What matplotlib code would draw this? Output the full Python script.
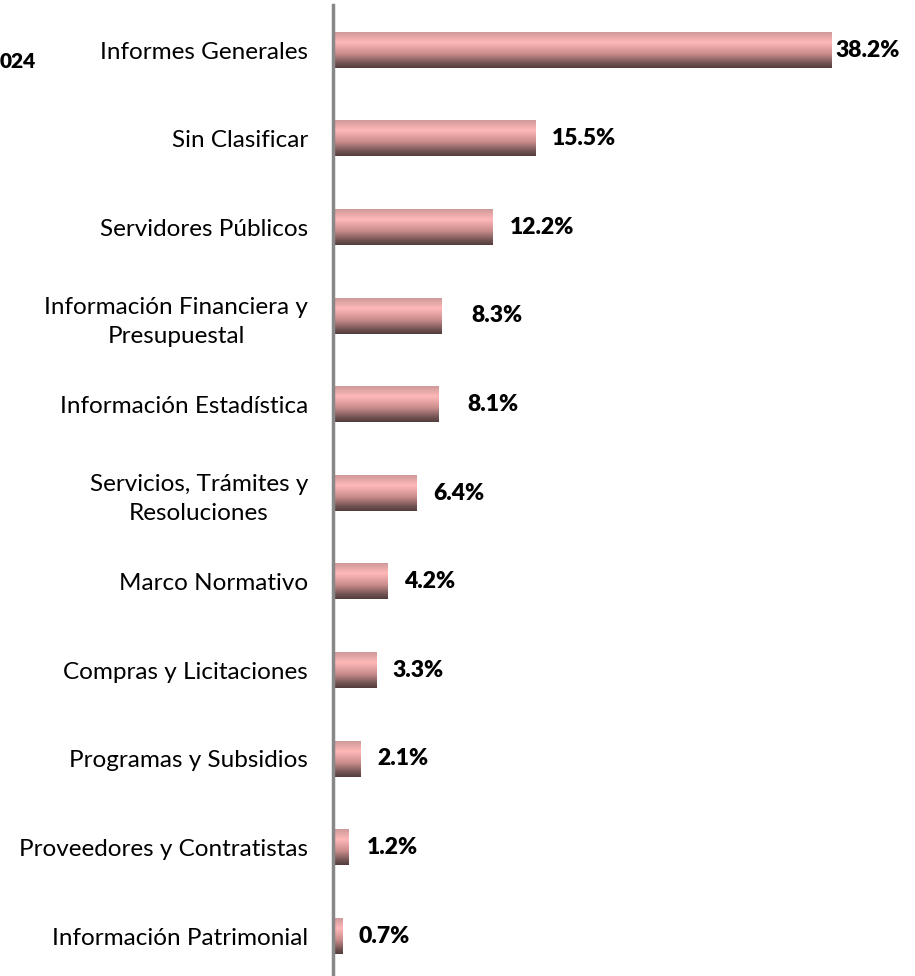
import numpy as np
import matplotlib.pyplot as plt
from matplotlib.colors import LinearSegmentedColormap

categories = [
    "Informes Generales",
    "Sin Clasificar",
    "Servidores Públicos",
    "Información Financiera y\nPresupuestal",
    "Información Estadística",
    "Servicios, Trámites y\nResoluciones",
    "Marco Normativo",
    "Compras y Licitaciones",
    "Programas y Subsidios",
    "Proveedores y Contratistas",
    "Información Patrimonial",
]
values = [38.2, 15.5, 12.2, 8.3, 8.1, 6.4, 4.2, 3.3, 2.1, 1.2, 0.7]
# label nudges (points) to the right of each bar end
label_offsets = [3, 12, 13, 22, 21, 12, 12, 12, 12, 13, 12]

plt.rcParams["font.family"] = ["Lato", "DejaVu Sans"]

fig = plt.figure(figsize=(9.15, 9.76), dpi=100)
ax = fig.add_axes([333 / 915, 0.0, 1 - 333 / 915, 1 - 5 / 976])

# vertical gradient used for the cylinder-look bars
bar_cmap = LinearSegmentedColormap.from_list(
    "bar",
    [(0.0, "#d09a9a"), (0.28, "#ffb8b8"), (0.6, "#cc8d8d"), (0.88, "#705252"), (1.0, "#553c3c")],
)
grad = np.linspace(0, 1, 64).reshape(-1, 1)

h = 0.4
for i, v in enumerate(values):
    ax.imshow(grad, cmap=bar_cmap, aspect="auto", extent=(0, v, i + h / 2, i - h / 2),
              interpolation="bilinear", zorder=2)
    ax.annotate(f"{v:.1f}%", xy=(v, i), xytext=(label_offsets[i], 0), textcoords="offset points",
                va="center", ha="left", fontsize=16.5, fontweight="heavy", color="black")

ax.set_xlim(0, 44.6)
ax.set_ylim(len(values) - 1 + 0.45, -0.51)

ax.set_yticks(range(len(categories)))
ax.set_yticklabels(categories, fontsize=17.5, multialignment="center", linespacing=1.45)
ax.tick_params(axis="y", length=0, pad=18)
ax.set_xticks([])

for s in ["top", "right", "bottom"]:
    ax.spines[s].set_visible(False)
ax.spines["left"].set_color("#888888")
ax.spines["left"].set_linewidth(2.5)

fig.text(0.0, 1 - 62 / 976, "024", ha="left", va="center", fontsize=15, fontweight="heavy")

fig.savefig("out.png", dpi=100)
